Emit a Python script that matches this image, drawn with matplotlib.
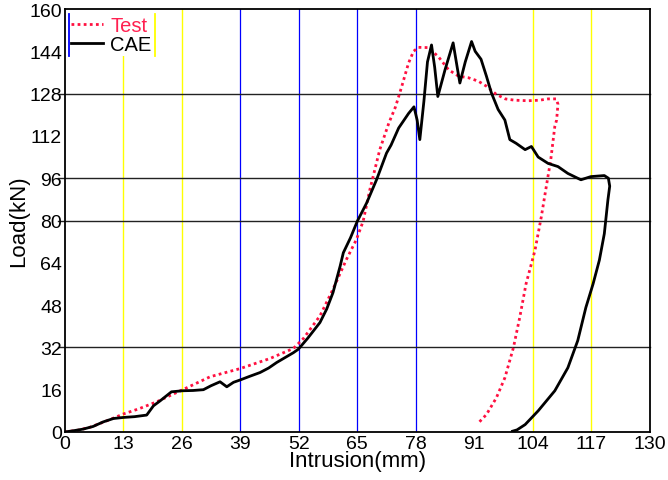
import matplotlib
matplotlib.use("Agg")
import matplotlib.pyplot as plt
from matplotlib.lines import Line2D
from matplotlib.patches import Rectangle

plt.rcParams['font.family'] = ['Liberation Sans', 'DejaVu Sans']

# CAE load-intrusion curve (loading then unloading)
cae_x = [0, 2, 4.1, 6.3, 8.5, 10.8, 13, 15.5, 18.2, 19.7, 21.2, 23.7, 26.2, 28.5, 30.8,
         32.5, 34.5, 36, 37.5, 39, 41, 43.4, 45.3, 47.1, 49, 50.8, 51.9, 54, 56.7, 58.2,
         59.6, 61.2, 61.9, 63.5, 65, 67.1, 69.3, 71.5, 72.5, 74.2, 76.4, 77.6, 78.3, 78.9,
         79.8, 80.6, 81.5, 82.2, 82.9, 84.5, 86.3, 87.2, 87.8, 89, 90.4, 91.2, 92.5, 93.7,
         94.8, 96.3, 97.8, 98.9, 100.3, 102.3, 103.7, 105.2, 107.4, 109.6, 111.8, 114.7,
         116.9, 119.9, 120.8, 121.1, 120.7, 119.9, 118.8, 117.4, 115.8, 114, 111.8, 108.9,
         105.2, 102.3, 100.5, 99.5]
cae_y = [0, 0.5, 1.1, 2.1, 3.8, 5.1, 5.5, 5.8, 6.4, 9.9, 11.8, 15.2, 15.6, 15.7, 16,
         17.5, 19, 17.1, 18.8, 19.7, 21, 22.5, 24.2, 26.3, 28.2, 30, 31.3, 35.5, 41.4, 46.5,
         52.7, 62.8, 67.8, 73.5, 79.7, 86.7, 95.5, 105.5, 108.5, 115, 120.5, 123, 118, 110.6,
         125, 140, 146.4, 138, 126.9, 137, 147.2, 138, 132, 140, 147.7, 144, 141, 134.6,
         128.3, 122, 118, 110.6, 109.2, 106.8, 108, 104, 101.6, 100.4, 97.8, 95.4,
         96.6, 97, 96, 93, 87.8, 75, 65, 56, 47.1, 34.6, 24.3, 15.6,
         8, 2.8, 0.8, 0.3]

# test measurement
test_x = [0, 3, 5.6, 9, 13, 16.5, 20.4, 26.2, 32.3, 39, 45.6, 50.8, 53, 56.7, 59.6,
          62.6, 64.8, 66.3, 67.8, 70, 72, 73.5, 74.9, 76.4, 77.5, 78.6, 80.8, 83, 85.3,
          87.5, 89.7, 91.9, 93.7, 95.9, 97.9, 100, 103, 105.5, 107.4, 109.2, 109.6, 109.3,
          108.9, 108, 107, 105.9, 104.5, 102.5, 101.1, 99.7, 97.8, 95.9, 93.7, 91.9]
test_y = [0, 0.7, 1.8, 4, 6.8, 8.8, 11.4, 16, 20.9, 24, 27.8, 31.6, 35.3, 43.9, 54,
          65.3, 72.8, 79.7, 91.7, 106.8, 116.8, 123, 130.8, 139.6, 144, 145.5, 145.4, 142, 137,
          134.6, 134, 132.7, 130.8, 127.7, 126, 125.5, 125.3, 125.5, 126, 126, 124, 118,
          115.6, 103, 92.8, 81.4, 68.8, 56, 43.3, 31.9, 20.5, 12.9, 6.6, 3.4]

x_ticks = list(range(0, 131, 13))
y_ticks = list(range(0, 161, 16))
yellow_x = [13, 26, 104, 117]
blue_x = [39, 52, 65, 78]
black_y = [32, 80, 96, 128]

fig = plt.figure(figsize=(6.68, 4.81), dpi=100)
ax = fig.add_axes([0.097, 0.0998, 0.8757, 0.8794])

for v in yellow_x:
    ax.axvline(v, color='#ffff00', lw=1.0, zorder=1)
for v in blue_x:
    ax.axvline(v, color='#0000ff', lw=0.9, zorder=1)
for v in black_y:
    ax.axhline(v, xmin=-0.012, xmax=1.0, color='#222222', lw=1.0, zorder=1, clip_on=False)

ax.plot(test_x, test_y, color='#ff1040', lw=2.0, ls=(0, (1, 1.2)), zorder=3)
ax.plot(cae_x, cae_y, color='black', lw=2.0, zorder=4)

ax.set_xlim(0, 130)
ax.set_ylim(0, 160)
ax.set_xticks(x_ticks)
ax.set_yticks(y_ticks)
ax.tick_params(length=0, labelsize=14, pad=2)
for s in ax.spines.values():
    s.set_linewidth(1.3)
    s.set_zorder(6)
ax.set_xlabel('Intrusion(mm)', fontsize=16, labelpad=-1)
ax.set_ylabel('Load(kN)', fontsize=16, labelpad=0)

# legend box: white patch with a blue left edge and yellow right edge
ax.add_patch(Rectangle((0.007, 0.889), 0.147, 0.111, transform=ax.transAxes,
                       facecolor='white', edgecolor='none', zorder=5))
ax.plot([0.007, 0.007], [0.889, 0.988], color='#0000ff', lw=1.3,
        transform=ax.transAxes, zorder=6)
ax.plot([0.154, 0.154], [0.889, 0.988], color='#ffff00', lw=1.3,
        transform=ax.transAxes, zorder=6)
handles = [Line2D([], [], color='#ff1040', lw=2.0, ls=(0, (1, 1.2))),
           Line2D([], [], color='black', lw=2.0)]
leg = ax.legend(handles, ['Test', 'CAE'], loc='upper left', bbox_to_anchor=(-0.01, 1.013),
                frameon=False, fontsize=14.5, handlelength=1.6, handletextpad=0.35,
                labelspacing=0.0, borderaxespad=0.2, labelcolor=['#ff2050', 'black'])
leg.set_zorder(7)

fig.savefig('out.png', dpi=100)
